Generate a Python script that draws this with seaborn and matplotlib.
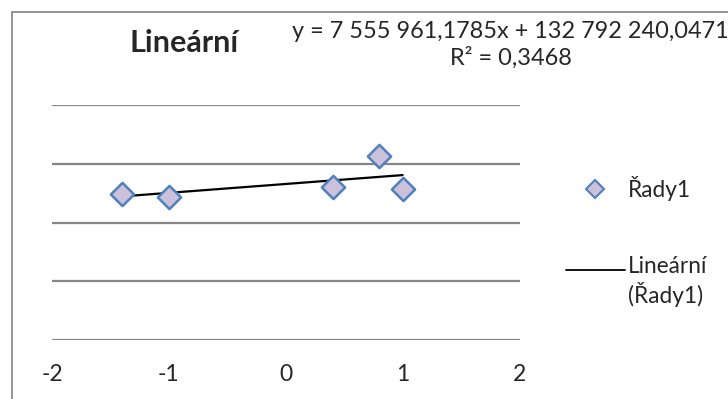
import numpy as np
import pandas as pd
import seaborn as sns
import matplotlib
matplotlib.use("Agg")
import matplotlib.pyplot as plt
from matplotlib.patches import Rectangle
from matplotlib.lines import Line2D
from matplotlib.legend_handler import HandlerLine2D

# Data series "Řady1"
x_vals = [-1.4, -1.0, 0.4, 0.8, 1.0]
y_vals = [124.3e6, 122.0e6, 129.9e6, 156.8e6, 128.2e6]

# Linear trendline as reported
slope = 7555961.1785
intercept = 132792240.0471
r_squared = 0.3468

x_ticks = [-2, -1, 0, 1, 2]
y_grid = [0, 50e6, 100e6, 150e6, 200e6]

series_name = "Řady1"
trend_name = "Lineární"


class TopAlignedLine(HandlerLine2D):
    """Line handle aligned with the first row of a two-line label."""
    def create_artists(self, legend, orig_handle, xdescent, ydescent,
                       width, height, fontsize, trans):
        return super().create_artists(legend, orig_handle, xdescent,
                                      ydescent - 1.1 * fontsize, width,
                                      height, fontsize, trans)


sns.set_theme(style="white")
plt.rcParams["font.family"] = ["Lato", "DejaVu Sans"]

W, H = 728, 399
fig = plt.figure(figsize=(W / 100, H / 100), dpi=100)

# chart-area border
fig.patches.append(Rectangle((12 / W, -0.1), 1.2, 1.1 - 12 / H,
                             transform=fig.transFigure, fill=False,
                             edgecolor="#8c8c8c", linewidth=1.3))

ax = fig.add_axes([52 / W, (H - 340) / H, (519.5 - 52) / W, (340 - 105) / H])

df = pd.DataFrame({"x": x_vals, "y": y_vals})
fit_x = np.array([min(x_vals), max(x_vals)])
trend = pd.DataFrame({"x": fit_x, "y": slope * fit_x + intercept})

for g in y_grid:
    ax.axhline(g, color="#868686", linewidth=1.6, zorder=0)

sns.lineplot(data=trend, x="x", y="y", ax=ax, color="black", linewidth=1.6,
             zorder=2, legend=False)
sns.scatterplot(data=df, x="x", y="y", ax=ax, marker="D", s=140,
                color="#ccc1da", edgecolor="#4f81bd", linewidth=1.8,
                zorder=3, legend=False)

ax.set_xlim(-2, 2)
ax.set_ylim(0, 200e6)
ax.set_xticks(x_ticks)
ax.set_xticklabels([str(t) for t in x_ticks], fontsize=16.5)
ax.set_yticks([])
ax.set_xlabel("")
ax.set_ylabel("")
ax.tick_params(axis="x", length=0, pad=17)
for s in ax.spines.values():
    s.set_visible(False)

fig.text(184 / W, 1 - 43 / H, trend_name, fontsize=22, fontweight="bold",
         ha="center", va="center")
fig.text(510 / W, 1 - 31 / H,
         "y = 7 555 961,1785x + 132 792 240,0471",
         fontsize=16.9, ha="center", va="center")
fig.text(511 / W, 1 - 58 / H, "R² = 0,3468", fontsize=16.9,
         ha="center", va="center")

handles = [
    Line2D([], [], linestyle="none", marker="D", markersize=9,
           markerfacecolor="#ccc1da", markeredgecolor="#4f81bd",
           markeredgewidth=1.5),
    Line2D([], [], color="black", linewidth=1.3),
]
fig.legend(handles, [series_name, f"{trend_name}\n({series_name})"],
           loc="upper left", bbox_to_anchor=(566 / W, 1 - 176 / H),
           frameon=False, fontsize=16.3, handlelength=2.6, handletextpad=0.12,
           labelspacing=2.45, borderaxespad=0, borderpad=0,
           handler_map={handles[1]: TopAlignedLine()})

fig.savefig("out.png", dpi=100)
